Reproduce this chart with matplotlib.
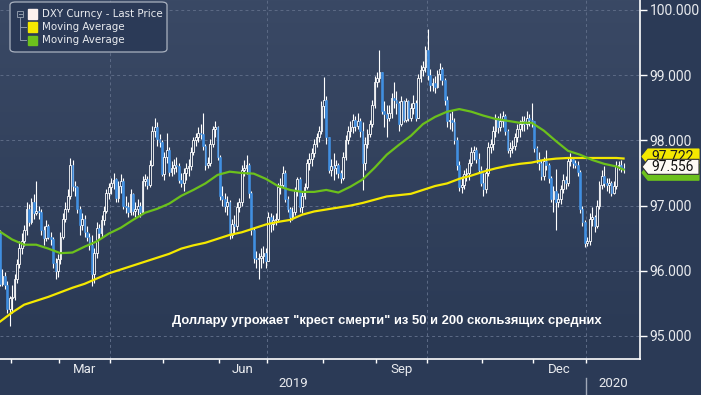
import matplotlib
matplotlib.use('Agg')
import matplotlib.pyplot as plt
from matplotlib.colors import LinearSegmentedColormap
from matplotlib.patches import FancyBboxPatch, Rectangle, Polygon
from matplotlib.lines import Line2D
import numpy as np
import pandas as pd

# ---- data (DXY daily candles) ----
START = '2019-01-25'
AXIS_END = '2020-01-31'
first_open = 96.58

close = [
    95.80,
    95.92, 95.78, 95.42, 95.58, 95.60,
    95.88, 96.10, 96.35, 96.45, 96.62,
    96.95, 96.75, 97.05, 96.88, 96.92,
    96.90, 96.62, 96.50, 96.68, 96.52,
    96.48, 96.12, 96.00, 96.18, 96.52,
    96.80, 96.95, 97.15, 97.62, 97.30,
    97.28, 96.95, 96.70, 96.80, 96.60,
    96.52, 96.40, 95.95, 96.28, 96.65,
    96.58, 96.78, 96.92, 97.20, 97.28,
    97.35, 97.40, 97.12, 97.30, 97.38,
    97.00, 96.98, 96.90, 97.18, 96.92,
    96.95, 97.00, 96.90, 97.38, 97.40,
    97.32, 97.62, 98.15, 98.20, 98.02,
    97.98, 97.48, 97.75, 97.85, 97.52,
    97.58, 97.62, 97.60, 97.40, 97.35,
    97.50, 97.58, 97.60, 97.82, 98.00,
    98.05, 98.12, 98.10, 97.92, 97.62,
    97.65, 97.95, 98.18, 98.20, 97.75,
    97.15, 97.10, 97.00, 97.05, 96.55,
    96.72, 96.68, 96.98, 97.05, 97.55,
    97.58, 97.62, 97.20, 96.62, 96.20,
    96.18, 96.20, 96.22, 96.28, 96.15,
    96.82, 96.72, 96.78, 96.80, 97.28,
    97.32, 97.50, 97.10, 96.95, 96.82,
    96.90, 97.22, 97.40, 96.98, 97.15,
    97.28, 97.65, 97.72, 97.80, 97.95,
    98.05, 98.15, 98.52, 98.62, 98.05,
    97.55, 97.60, 97.58, 97.62, 97.50,
    97.42, 97.75, 98.00, 98.15, 98.20,
    98.32, 98.22, 98.30, 98.15, 97.65,
    97.95, 98.10, 98.25, 98.55, 98.90,
    98.95, 99.05, 98.45, 98.40, 98.35,
    98.42, 98.65, 98.62, 98.58, 98.25,
    98.60, 98.32, 98.60, 98.35, 98.50,
    98.58, 98.35, 98.95, 99.08, 99.12,
    99.38, 99.00, 98.85, 98.88, 98.82,
    99.02, 99.10, 98.92, 98.62, 98.30,
    98.32, 98.28, 98.00, 97.62, 97.28,
    97.32, 97.48, 97.50, 97.65, 97.82,
    97.85, 97.72, 97.55, 97.35, 97.25,
    97.50, 97.90, 97.95, 98.15, 98.35,
    98.20, 98.30, 98.38, 98.15, 97.85,
    97.88, 97.92, 98.05, 98.18, 98.25,
    98.30, 98.25, 98.35, 98.32, 98.30,
    97.88, 97.72, 97.65, 97.45, 97.68,
    97.62, 97.42, 97.10, 97.22, 97.05,
    97.10, 97.25, 97.40, 97.35, 97.68,
    97.72, 97.65, 97.62, 97.52, 96.95,
    96.75, 96.42, 96.45, 96.80, 96.82,
    96.68, 97.00, 97.32, 97.45, 97.35,
    97.32, 97.35, 97.20, 97.30, 97.60,
    97.62, 97.58, 97.556,
]

high = [
    96.62,
    96.02, 95.98, 95.85, 95.62, 95.78,
    95.95, 96.18, 96.45, 96.58, 96.70,
    97.05, 97.02, 97.12, 97.18, 97.37,
    97.00, 96.95, 96.68, 96.78, 96.72,
    96.60, 96.52, 96.20, 96.25, 96.60,
    96.88, 97.05, 97.25, 97.73, 97.70,
    97.38, 97.30, 97.00, 96.88, 96.85,
    96.68, 96.58, 96.55, 96.35, 96.75,
    96.72, 96.85, 97.00, 97.25, 97.35,
    97.42, 97.50, 97.42, 97.38, 97.48,
    97.42, 97.15, 97.05, 97.25, 97.20,
    97.05, 97.10, 97.05, 97.45, 97.48,
    97.45, 97.70, 98.22, 98.35, 98.28,
    98.10, 98.00, 97.82, 98.12, 97.90,
    97.68, 97.72, 97.75, 97.65, 97.50,
    97.58, 97.65, 97.72, 97.90, 98.05,
    98.12, 98.20, 98.25, 98.42, 97.95,
    97.75, 98.02, 98.22, 98.30, 98.22,
    97.78, 97.30, 97.20, 97.15, 97.08,
    96.80, 96.85, 97.05, 97.12, 97.62,
    97.70, 97.78, 97.65, 97.22, 96.65,
    96.30, 96.28, 96.35, 96.38, 96.35,
    96.90, 96.88, 96.85, 96.88, 97.35,
    97.42, 97.60, 97.55, 97.15, 96.98,
    96.98, 97.28, 97.44, 97.44, 97.22,
    97.35, 97.72, 97.80, 97.88, 98.02,
    98.12, 98.22, 98.60, 98.97, 98.68,
    98.05, 97.72, 97.80, 97.70, 97.65,
    97.55, 97.82, 98.08, 98.22, 98.30,
    98.40, 98.38, 98.42, 98.35, 98.28,
    98.05, 98.18, 98.32, 98.62, 98.98,
    99.05, 99.39, 99.05, 98.60, 98.55,
    98.55, 98.72, 98.90, 98.75, 98.60,
    98.68, 98.62, 98.65, 98.62, 98.58,
    98.70, 98.62, 99.02, 99.15, 99.22,
    99.45, 99.71, 99.10, 98.95, 98.98,
    99.08, 99.18, 99.12, 98.95, 98.68,
    98.42, 98.45, 98.35, 98.05, 97.68,
    97.45, 97.55, 97.58, 97.72, 97.90,
    97.92, 97.90, 97.80, 97.60, 97.50,
    97.58, 97.98, 98.02, 98.22, 98.40,
    98.38, 98.42, 98.45, 98.40, 98.18,
    97.98, 98.00, 98.12, 98.25, 98.32,
    98.38, 98.38, 98.45, 98.40, 98.58,
    98.30, 97.92, 97.82, 97.70, 97.75,
    97.85, 97.65, 97.45, 97.30, 97.56,
    97.20, 97.32, 97.48, 97.45, 97.75,
    97.80, 97.75, 97.70, 97.68, 97.55,
    97.00, 96.78, 96.52, 96.88, 96.98,
    96.85, 97.08, 97.38, 97.55, 97.60,
    97.42, 97.42, 97.38, 97.38, 97.68,
    97.68, 97.70, 97.65,
]

low = [
    95.76,
    95.76, 95.72, 95.35, 95.16, 95.35,
    95.55, 95.82, 96.05, 96.25, 96.38,
    96.55, 96.68, 96.72, 96.80, 96.85,
    96.80, 96.55, 96.40, 96.45, 96.48,
    96.40, 96.05, 95.88, 95.90, 96.10,
    96.48, 96.75, 96.90, 97.10, 97.22,
    97.15, 96.88, 96.55, 96.62, 96.52,
    96.45, 96.32, 95.76, 95.82, 96.20,
    96.48, 96.52, 96.70, 96.88, 97.10,
    97.18, 97.25, 97.05, 97.05, 97.20,
    96.95, 96.88, 96.82, 96.85, 96.85,
    96.83, 96.85, 96.83, 96.88, 97.30,
    97.25, 97.28, 97.60, 98.05, 97.92,
    97.90, 97.45, 97.40, 97.65, 97.45,
    97.45, 97.48, 97.52, 97.35, 97.28,
    97.22, 97.40, 97.45, 97.55, 97.78,
    97.92, 97.98, 98.02, 97.85, 97.55,
    97.58, 97.60, 97.90, 98.05, 97.70,
    97.08, 97.00, 96.90, 96.85, 96.48,
    96.50, 96.58, 96.62, 96.90, 97.00,
    97.45, 97.48, 97.12, 96.55, 96.12,
    96.05, 95.87, 96.05, 96.12, 96.05,
    96.40, 96.60, 96.62, 96.70, 96.75,
    97.18, 97.28, 97.05, 96.90, 96.75,
    96.78, 96.85, 97.15, 96.90, 96.88,
    97.10, 97.25, 97.55, 97.60, 97.75,
    97.90, 97.98, 98.10, 98.35, 97.95,
    97.50, 97.45, 97.40, 97.48, 97.42,
    97.35, 97.40, 97.70, 97.95, 98.05,
    98.12, 98.15, 98.18, 98.05, 97.24,
    97.55, 97.88, 98.05, 98.20, 98.50,
    98.82, 98.90, 98.40, 98.20, 98.05,
    98.30, 98.35, 98.50, 98.40, 98.15,
    98.22, 98.28, 98.28, 98.30, 98.30,
    98.40, 98.30, 98.35, 98.90, 98.98,
    99.05, 98.92, 98.75, 98.75, 98.72,
    98.80, 98.92, 98.85, 98.55, 98.20,
    98.18, 98.15, 97.95, 97.55, 97.22,
    97.20, 97.25, 97.38, 97.40, 97.60,
    97.70, 97.65, 97.50, 97.30, 97.14,
    97.20, 97.45, 97.80, 97.85, 98.05,
    98.12, 98.15, 98.20, 98.08, 97.80,
    97.75, 97.80, 97.85, 97.98, 98.05,
    98.15, 98.15, 98.18, 98.22, 98.20,
    97.82, 97.65, 97.55, 97.40, 97.40,
    97.55, 97.35, 97.05, 96.90, 96.63,
    96.98, 97.02, 97.20, 97.25, 97.30,
    97.60, 97.58, 97.58, 97.45, 96.88,
    96.68, 96.37, 96.38, 96.40, 96.68,
    96.60, 96.65, 96.95, 97.25, 97.28,
    97.22, 97.20, 97.14, 97.18, 97.25,
    97.55, 97.52, 97.50,
]

# moving averages, read every 5th trading day plus the last one
ma_step = 5
ma50 = [
    96.60, 96.48, 96.40, 96.40, 96.34, 96.27, 96.28, 96.37, 96.45, 96.57,
    96.66, 96.78, 96.89, 96.95, 97.03, 97.15, 97.24, 97.34, 97.47, 97.52,
    97.50, 97.49, 97.41, 97.30, 97.24, 97.21, 97.21, 97.24, 97.20, 97.29,
    97.40, 97.58, 97.78, 97.93, 98.07, 98.25, 98.36, 98.44, 98.48, 98.44,
    98.38, 98.33, 98.30, 98.27, 98.27, 98.15, 97.99, 97.84, 97.78, 97.70,
    97.64, 97.60, 97.55,
]
ma200 = [
    95.22, 95.36, 95.48, 95.54, 95.60, 95.67, 95.74, 95.80, 95.88, 95.96,
    96.02, 96.08, 96.14, 96.20, 96.26, 96.34, 96.39, 96.43, 96.49, 96.55,
    96.59, 96.65, 96.71, 96.75, 96.78, 96.86, 96.91, 96.94, 96.97, 97.00,
    97.04, 97.09, 97.14, 97.16, 97.18, 97.24, 97.30, 97.34, 97.41, 97.46,
    97.52, 97.57, 97.61, 97.64, 97.66, 97.70, 97.72, 97.73, 97.73, 97.73,
    97.73, 97.73, 97.722,
]

legend_labels = ['DXY Curncy - Last Price', 'Moving Average', 'Moving Average']
note = 'Доллару угрожает "крест смерти" из 50 и 200 скользящих средних'
y_ticks = [95, 96, 97, 98, 99, 100]
quarter_months = {3: 'Mar', 6: 'Jun', 9: 'Sep', 12: 'Dec'}

# ---- style ----
BG = '#2b3a56'
BG_TOP = '#3a4965'
BG_BOTTOM = '#2a3954'
GRID = '#5d6b86'
BLUE = '#3f8fe2'
YELLOW = '#f4e800'
GREEN = '#6cc11c'
TXT = '#e9ebef'
AXF = ['Roboto', 'DejaVu Sans']
W, H = 701, 395

n = len(close)
xs = np.arange(n)
opens = [first_open] + close[:-1]
axis_days = pd.bdate_range(START, AXIS_END)
ma_x = list(range(0, n - 1, ma_step)) + [n - 1]

fig = plt.figure(figsize=(W / 100, H / 100), dpi=100, facecolor=BG)
ax = fig.add_axes([0, 36 / H, 640 / W, 359 / H])
ax.set_facecolor(BG)

grad = np.linspace(0, 1, 256).reshape(-1, 1)
ax.imshow(grad, cmap=LinearSegmentedColormap.from_list('bg', [BG_TOP, BG_BOTTOM]),
          extent=[0, 1, 0, 1], transform=ax.transAxes, aspect='auto', zorder=0)

# candles
up = [c >= o for o, c in zip(opens, close)]
for i in range(n):
    o, c = opens[i], close[i]
    ax.vlines(xs[i], low[i], high[i], color='white', lw=0.8, zorder=2)
    body = max(abs(c - o), 0.012)
    if up[i]:
        ax.bar(xs[i], body, bottom=min(o, c), width=0.72, facecolor=BG,
               edgecolor='white', lw=0.6, zorder=3)
    else:
        ax.bar(xs[i], body, bottom=min(o, c), width=0.72, facecolor=BLUE,
               edgecolor=BLUE, lw=0.4, zorder=3)

ax.plot(ma_x, ma200, color=YELLOW, lw=1.6, zorder=4)
ax.plot(ma_x, ma50, color=GREEN, lw=1.6, zorder=5)

# axes limits / spines
ax.set_xlim(0, 264.8)
ax.set_ylim(94.647, 100.153)
for s in ('left', 'top'):
    ax.spines[s].set_visible(False)
ax.spines['right'].set_color('white')
ax.spines['bottom'].set_color('white')
ax.spines['right'].set_linewidth(1.2)
ax.spines['bottom'].set_linewidth(1.2)

ax.yaxis.tick_right()
ax.set_yticks(y_ticks)
ax.set_yticklabels([f'{v:.3f}' for v in y_ticks], family=AXF, fontsize=10, color=TXT)
ax.tick_params(axis='y', colors='white', length=5, width=1, pad=2, labelcolor=TXT)
for v in y_ticks:
    ax.axhline(v, color=GRID, lw=0.7, ls=(0, (3, 3)), zorder=1)

# month boundaries
starts = [i for i in range(1, len(axis_days)) if axis_days[i].month != axis_days[i - 1].month]
bounds = [i - 0.5 for i in starts]
ax.set_xticks(bounds)
ax.set_xticklabels([])
ax.tick_params(axis='x', colors='white', length=3, width=1)
for b, i in zip(bounds, starts):
    if axis_days[i].month in (1, 4, 7, 10):
        ax.axvline(b, color=GRID, lw=0.7, ls=(0, (3, 3)), zorder=1)

xt = ax.get_xaxis_transform()
edges = bounds + [264.5]
for k, i in enumerate(starts):
    m = axis_days[i].month
    if m in quarter_months:
        ax.text((edges[k] + edges[k + 1]) / 2, -0.028, quarter_months[m], transform=xt,
                ha='center', va='center', color=TXT, fontsize=9.5, family=AXF)

year_cut = [b for b, i in zip(bounds, starts) if axis_days[i].month == 1][0]
ax.text(year_cut / 2, -0.069, '2019', transform=xt, ha='center', va='center',
        color=TXT, fontsize=9.5, family=AXF)
ax.text((year_cut + 264.8) / 2, -0.069, '2020', transform=xt, ha='center', va='center',
        color=TXT, fontsize=9.5, family=AXF)
ax.add_line(Line2D([year_cut, year_cut], [-0.053, -0.097], transform=xt,
                   color='#a0a8b8', lw=1, clip_on=False))

# annotation
ax.text(0.604, 0.106, note, transform=ax.transAxes, ha='center', va='center',
        color='white', fontsize=9.4, fontweight='bold', family=['Liberation Sans', 'DejaVu Sans'],
        zorder=6)


# last value tags on the right (later tags cover earlier ones, as in the reference)
def tag(value, dy, face, tcolor, z, edge=None, show_text=True):
    _, yd = ax.transData.transform((0, value))
    yc = yd + dy
    pts = [(642, yc), (648, yc + 7.5), (699, yc + 7.5), (699, yc - 7.5), (648, yc - 7.5)]
    pts = [(px / W, py / H) for px, py in pts]
    fig.patches.append(Polygon(pts, closed=True, transform=fig.transFigure,
                               facecolor=face, edgecolor=edge or face, lw=0.8, zorder=z))
    if show_text:
        fig.text(651 / W, yc / H, f'{value:.3f}', ha='left', va='center', color=tcolor,
                 fontsize=10, family=AXF, zorder=z + 0.5)


tag(ma50[-1], -3, GREEN, '#1a1a1a', 20, show_text=False)
tag(ma200[-1], 2, YELLOW, '#1a1a1a', 22)
tag(close[-1], 2.5, '#fdfaf4', '#111111', 24, edge='#333333')

# legend box
fig.patches.append(FancyBboxPatch((10 / W, 1 - 52 / H), 157 / W, 50 / H,
                                  boxstyle='round,pad=0,rounding_size=0.008',
                                  transform=fig.transFigure, facecolor='#2b3a57',
                                  edgecolor='#aab2c0', lw=0.9, zorder=10))
tree = '#8d97a8'
fig.patches.append(Rectangle((17 / W, 1 - 17 / H), 6 / W, 6 / H, transform=fig.transFigure,
                             facecolor='none', edgecolor=tree, lw=0.7, zorder=11))
fig.lines.append(Line2D([18.5 / W, 21.5 / W], [1 - 14 / H, 1 - 14 / H], transform=fig.transFigure,
                        color=tree, lw=0.7, zorder=11))
fig.lines.append(Line2D([20 / W, 20 / W, 26 / W], [1 - 17 / H, 1 - 40 / H, 1 - 40 / H],
                        transform=fig.transFigure, color=tree, lw=0.7, zorder=11))
fig.lines.append(Line2D([20 / W, 26 / W], [1 - 27 / H, 1 - 27 / H],
                        transform=fig.transFigure, color=tree, lw=0.7, zorder=11))
for k, (lab, col) in enumerate(zip(legend_labels, ['#fdf1ee', YELLOW, GREEN])):
    yc = 14 + 13 * k
    fig.patches.append(Rectangle((28 / W, 1 - (yc + 4.5) / H), 9 / W, 9 / H,
                                 transform=fig.transFigure, facecolor=col,
                                 edgecolor=col, zorder=11))
    fig.text(42 / W, 1 - yc / H, lab, ha='left', va='center', color=TXT,
             fontsize=7.4, family='DejaVu Sans', zorder=12)

fig.savefig('out.png', dpi=100, facecolor=BG)
